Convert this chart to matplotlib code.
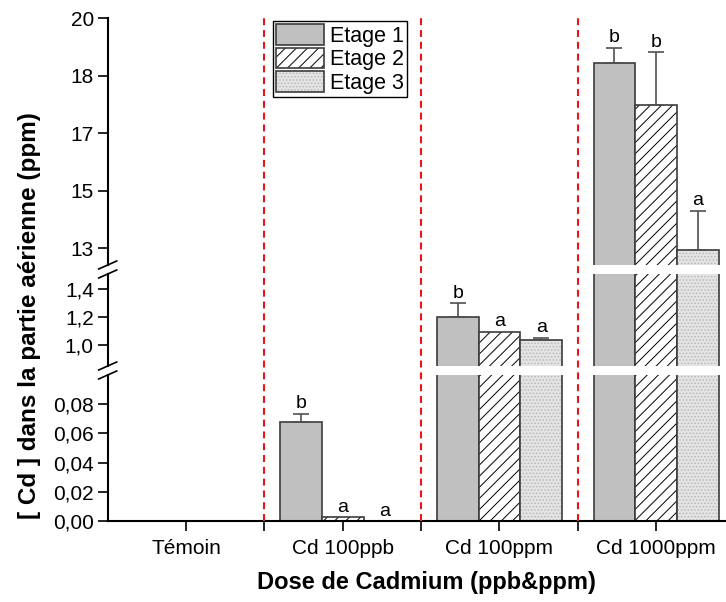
import matplotlib
matplotlib.use("Agg")
import matplotlib.pyplot as plt
from matplotlib.patches import Patch
from matplotlib.ticker import FuncFormatter, FixedLocator
from matplotlib.transforms import blended_transform_factory

plt.rcParams['font.family'] = ['Liberation Sans', 'DejaVu Sans']
plt.rcParams['hatch.linewidth'] = 0.7
plt.rcParams['lines.scale_dashes'] = False

groups = ['Témoin', 'Cd 100ppb', 'Cd 100ppm', 'Cd 1000ppm']
etage1 = [0.0, 0.068, 1.20, 18.70]
etage1_err = [0.0, 0.0055, 0.10, 0.45]
etage2 = [0.0, 0.0025, 1.096, 17.49]
etage2_err = [0.0, 0.0, 0.0, 1.52]
etage3 = [0.0, 0.0, 1.034, 13.28]
etage3_err = [0.0, 0.0, 0.018, 1.14]
letters1 = ['', 'b', 'b', 'b']
letters2 = ['', 'a', 'a', 'b']
letters3 = ['', 'a', 'a', 'a']
series_names = ['Etage 1', 'Etage 2', 'Etage 3']

# three stacked panels of the broken y axis: (ylim, ticks, label format)
top_ticks = [20 - k * 5 / 3 for k in range(4, -1, -1)]
panels = [
    ((12.85, 20.0), top_ticks, lambda v, p: f"{v:.0f}"),
    ((0.85, 1.51), [1.0, 1.2, 1.4], lambda v, p: f"{v:.1f}".replace('.', ',')),
    ((0.0, 0.1), [0.0, 0.02, 0.04, 0.06, 0.08], lambda v, p: f"{v:.2f}".replace('.', ',')),
]

W, H = 726, 602
fig = plt.figure(figsize=(W / 100, H / 100), dpi=100)

x0 = 107.7 / W
xw = 1 - x0
boxes_px = [(18.3, 265), (274, 366), (375, 521)]
axes = []
for (ytop, ybot) in boxes_px:
    ax = fig.add_axes([x0, 1 - ybot / H, xw, (ybot - ytop) / H])
    axes.append(ax)

edge = '#3c3c3c'
fill1 = '#c0c0c0'
fill3 = '#e4e4e4'
dots3 = '#b8b8b8'
width = 0.266
xs = list(range(1, len(groups) + 1))
fs = 15

series = [
    (etage1, etage1_err, letters1, -width),
    (etage2, etage2_err, letters2, 0.0),
    (etage3, etage3_err, letters3, width),
]

for ax, (ylim, ticks, fmt) in zip(axes, panels):
    pos1 = [x - width for x in xs]
    pos3 = [x + width for x in xs]
    ax.bar(pos1, etage1, width, color=fill1, edgecolor=edge, linewidth=1.2)
    ax.bar(xs, etage2, width, color='white', edgecolor='black', linewidth=0, hatch='///')
    ax.bar(xs, etage2, width, color='none', edgecolor=edge, linewidth=1.2)
    ax.bar(pos3, etage3, width, color=fill3, edgecolor=dots3, linewidth=0, hatch='.....')
    ax.bar(pos3, etage3, width, color='none', edgecolor=edge, linewidth=1.2)
    ax.set_ylim(*ylim)
    ax.set_xlim(0.5, 0.5 + (W - 107.7) / 156.7)
    ax.yaxis.set_major_locator(FixedLocator(ticks))
    ax.yaxis.set_major_formatter(FuncFormatter(fmt))
    for s in ['top', 'right', 'bottom']:
        ax.spines[s].set_visible(False)
    ax.spines['left'].set_linewidth(1.5)
    ax.tick_params(axis='y', direction='out', length=7, width=1.2, labelsize=fs, pad=3)
    ax.tick_params(axis='x', bottom=False, labelbottom=False)
    ax.patch.set_alpha(0)

# error bars and significance letters go in the panel holding the bar top
for vals, errs, letters, off in series:
    for x, v, e, lab in zip(xs, vals, errs, letters):
        if not lab:
            continue
        for ax, (ylim, _, _) in zip(axes, panels):
            if ylim[0] <= v <= ylim[1]:
                if e > 0:
                    ax.errorbar(x + off, v, yerr=[[0], [e]], fmt='none', ecolor='#505050',
                                elinewidth=1.2, capsize=6, capthick=1.2)
                ax.annotate(lab, (x + off, v + e), xytext=(0, 1), textcoords='offset points',
                            ha='center', va='bottom', fontsize=14)
                break

bottom = axes[2]
bottom.spines['bottom'].set_visible(True)
bottom.spines['bottom'].set_linewidth(1.5)
bottom.set_xticks(xs)
bottom.set_xticklabels(groups)
bottom.set_xticks([1.5, 2.5, 3.5], minor=True)
bottom.tick_params(axis='x', which='both', bottom=True, labelbottom=True, direction='out',
                   length=7, width=1.2, labelsize=fs, pad=6)

# red dashed separators across the full height
trans = blended_transform_factory(bottom.transData, fig.transFigure)
for xv in [1.5, 2.5, 3.5]:
    bottom.plot([xv, xv], [1 - 521 / H, 1 - 18.3 / H], transform=trans, color='#e8161b',
                linewidth=1.5, dashes=[5, 3.5], clip_on=False, zorder=5)

# break marks on the y axis
for yb in [265, 274, 366, 375]:
    fig.add_artist(plt.Line2D([(x0 * W - 9) / W, (x0 * W + 9) / W],
                              [1 - (yb + 4) / H, 1 - (yb - 4) / H],
                              transform=fig.transFigure, color='black', linewidth=1.2))

fig.text(426 / W, 1 - 583 / H, 'Dose de Cadmium (ppb&ppm)', ha='center', va='center',
         fontsize=17, fontweight='bold')
fig.text(30 / W, 1 - 316 / H, '[ Cd ] dans la partie aérienne (ppm)', ha='center', va='center',
         rotation=90, fontsize=17.5, fontweight='bold')

h1 = Patch(facecolor=fill1, edgecolor=edge, linewidth=1.2)
h2 = (Patch(facecolor='white', edgecolor='black', hatch='///', linewidth=0),
      Patch(facecolor='none', edgecolor=edge, linewidth=1.2))
h3 = (Patch(facecolor=fill3, edgecolor=dots3, hatch='.....', linewidth=0),
      Patch(facecolor='none', edgecolor=edge, linewidth=1.2))
leg = fig.legend([h1, h2, h3], series_names, loc='upper left',
                 bbox_to_anchor=(273 / W, 1 - 20.7 / H), borderaxespad=0,
                 fontsize=15.5, fancybox=False, edgecolor='black', framealpha=1,
                 handlelength=2.2, handleheight=1.1, labelspacing=0.05,
                 handletextpad=0.3, borderpad=0.15)
leg.get_frame().set_linewidth(1.0)

fig.savefig('out.png', dpi=100)
